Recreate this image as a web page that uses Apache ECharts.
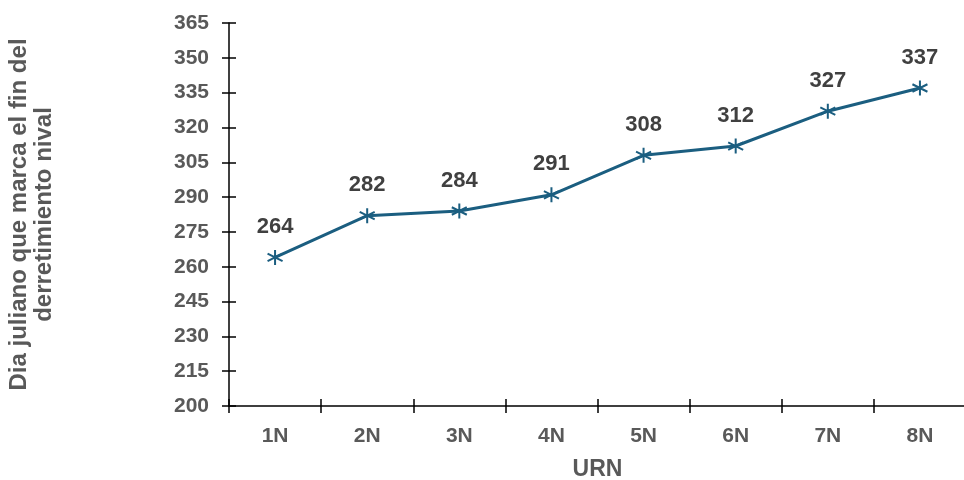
<!DOCTYPE html>
<html>
<head>
<meta charset="utf-8">
<script src="https://cdn.jsdelivr.net/npm/echarts@6/dist/echarts.min.js"></script>
<style>
    html, body { margin: 0; padding: 0; background: #fff; }
    #chart { width: 964px; height: 480px; }
</style>
</head>
<body>
<div id="chart"></div>
<script>
    var categories = ['1N', '2N', '3N', '4N', '5N', '6N', '7N', '8N'];
    var values = [264, 282, 284, 291, 308, 312, 327, 337];
    var yMin = 200, yMax = 365, yStep = 15;

    var lineColor = '#1b5e80';
    var textColor = '#595959';
    var fontFamily = '"Liberation Sans", Arial, sans-serif';

    // asterisk marker: vertical bar + two diagonals
    var starPath = 'path://M0,-10L0,10M-8.66,-5L8.66,5M-8.66,5L8.66,-5';

    var chart = echarts.init(document.getElementById('chart'));
    var tickStyle = { color: '#000', width: 1.5 };

    var option = {
        animation: false,
        grid: { left: 229, right: -2, top: 23, bottom: 74, outerBoundsMode: 'none', containLabel: false },
        xAxis: [
            {
                type: 'category',
                data: categories,
                boundaryGap: true,
                axisLine: { lineStyle: { color: '#000', width: 1.5 } },
                axisTick: { show: true, length: 7, lineStyle: tickStyle },
                axisLabel: { color: textColor, fontSize: 21, fontWeight: 'bold', fontFamily: fontFamily, margin: 20 },
                name: 'URN',
                nameLocation: 'middle',
                nameGap: 52,
                nameTextStyle: { color: textColor, fontSize: 23, fontWeight: 'bold', fontFamily: fontFamily }
            },
            {
                // inner half of crossing ticks
                type: 'category',
                data: categories,
                position: 'bottom',
                axisLine: { show: false },
                axisTick: { show: true, inside: true, length: 7, lineStyle: tickStyle },
                axisLabel: { show: false }
            }
        ],
        yAxis: [
            {
                type: 'value',
                min: yMin,
                max: yMax,
                interval: yStep,
                splitLine: { show: false },
                axisLine: { show: true, lineStyle: { color: '#000', width: 1.5 } },
                axisTick: { show: true, length: 7, lineStyle: tickStyle },
                axisLabel: { color: textColor, fontSize: 21, fontWeight: 'bold', fontFamily: fontFamily, margin: 20 },
                name: 'Dia juliano que marca el fin del\nderretimiento nival',
                nameLocation: 'middle',
                nameGap: 172,
                nameTextStyle: { color: textColor, fontSize: 24, fontWeight: 'bold', fontFamily: fontFamily, lineHeight: 25 }
            },
            {
                type: 'value',
                min: yMin,
                max: yMax,
                interval: yStep,
                position: 'left',
                splitLine: { show: false },
                axisLine: { show: false },
                axisTick: { show: true, inside: true, length: 7, lineStyle: tickStyle },
                axisLabel: { show: false }
            }
        ],
        series: [
            {
                type: 'line',
                data: values,
                symbol: starPath,
                symbolSize: 15,
                lineStyle: { color: lineColor, width: 3 },
                itemStyle: { color: 'rgba(0,0,0,0)', borderColor: lineColor, borderWidth: 2 },
                label: {
                    show: true,
                    position: 'top',
                    distance: 11,
                    color: '#404040',
                    fontSize: 22,
                    fontWeight: 'bold',
                    fontFamily: fontFamily
                }
            },
            {
                // empty series so the second axes (inner ticks) get drawn
                type: 'line',
                xAxisIndex: 1,
                yAxisIndex: 1,
                data: [],
                silent: true
            }
        ]
    };
    chart.setOption(option);
</script>
</body>
</html>
